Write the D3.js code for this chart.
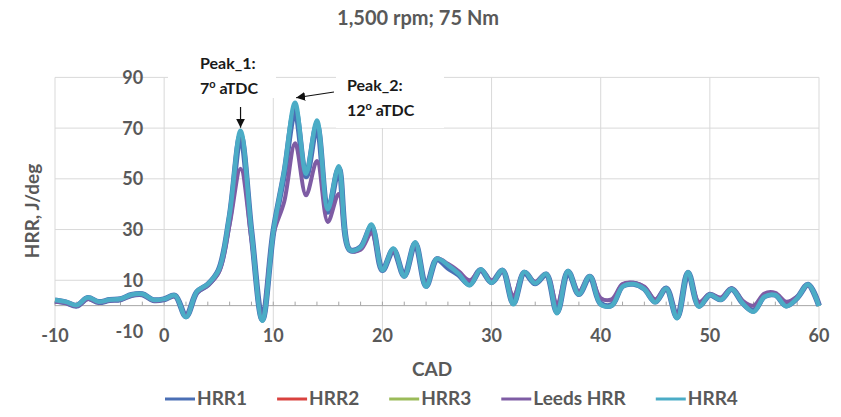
<!DOCTYPE html>
<html>
<head>
<meta charset="utf-8">
<script src="https://cdn.jsdelivr.net/npm/d3@7.9.0/dist/d3.min.js"></script>
<style>
  body { margin: 0; background: #fff; }
  svg { display: block; font-family: Lato, "Open Sans", sans-serif; font-weight: bold; }
</style>
</head>
<body>
<svg id="chart" width="841" height="417"></svg>
<script>
// crank angle, one value per degree
const cad = d3.range(-10, 61);

const yTicks = [-10, 10, 30, 50, 70, 90];
const xTicks = [-10, 0, 10, 20, 30, 40, 50, 60];

// heat release rate, J/deg
const hrr1 = [2.0, 1.3, 0.0, 3.0, 1.4, 2.2, 2.5, 4.2, 4.5, 2.2,
  2.5, 3.9, -4.2, 5.3, 8.3, 14, 35, 67, 29, -5.5,
  29, 52, 77, 51, 71, 37, 54, 22, 23, 31,
  14, 22, 11.8, 24.5, 7.8, 18.3, 15, 12.2, 8.4, 14.1,
  9.2, 13.8, 1.0, 13, 8.8, 12.3, -2.5, 13.4, 4.6, 11.4,
  0.8, 0.2, 7.8, 8.6, 6.7, 1.6, 6.8, -4.6, 13, 0,
  4.3, 2.5, 6.6, 1.2, -2.0, 3.7, 4.3, 0.1, 3.1, 8.2,
  0];
const hrr2 = [2.1, 1.4, 0.1, 3.1, 1.5, 2.3, 2.6, 4.3, 4.6, 2.3,
  2.6, 4.0, -4.4, 5.5, 8.5, 14, 36, 68.5, 29, -5.9,
  29, 53, 79.5, 52, 72.5, 38, 55, 22, 23, 32,
  14, 22.5, 11.5, 25, 7.5, 18.5, 16, 12.5, 8, 14.3,
  9, 14, 0.5, 13.3, 8.8, 12.5, -3, 13.7, 4.5, 11.6,
  0.5, 0, 7.5, 8.5, 6.5, 1.3, 6.8, -5, 13.2, -0.4,
  4.3, 2.3, 6.6, 1, -2.4, 3.5, 4.2, -0.2, 3, 8.3,
  -0.2];
const hrr3 = [2.2, 1.5, 0.2, 3.2, 1.5, 2.3, 2.6, 4.3, 4.6, 2.3,
  2.6, 4.0, -4.5, 5.5, 8.5, 14, 36, 68.8, 29, -6,
  29, 53, 79.8, 52, 72.8, 38, 55, 22, 23, 32,
  14, 22.5, 11.5, 25, 7.5, 18.5, 16, 12.5, 8, 14.3,
  9, 14, 0.5, 13.3, 8.8, 12.5, -3, 13.7, 4.5, 11.6,
  0.5, 0, 7.5, 8.5, 6.5, 1.3, 6.8, -5, 13.2, -0.4,
  4.3, 2.3, 6.6, 1, -2.4, 3.5, 4.2, -0.2, 3, 8.3,
  -0.2];
const leeds = [1.5, 1.0, -0.2, 2.6, 1.2, 2.0, 2.3, 4.0, 4.3, 2.0,
  2.4, 3.6, -3.8, 5.0, 8.0, 13, 32, 54, 26, -4.5,
  28, 41, 64, 43.5, 57, 33, 44, 22, 22, 28.5,
  14.5, 21.5, 12, 24, 8.5, 18.5, 16.5, 13.5, 10, 14,
  10, 13.5, 4, 13, 9.5, 12.5, 1, 13.5, 5.5, 11.6,
  3, 2.5, 8.5, 9, 7.5, 2.5, 6.8, -3.5, 12.5, 1.5,
  4.5, 3.2, 6.8, 2, 0, 4.8, 5, 1.5, 3.5, 8,
  0.5];
const hrr4 = [2.2, 1.5, 0.2, 3.2, 1.5, 2.3, 2.6, 4.3, 4.6, 2.3,
  2.6, 4.0, -4.5, 5.5, 8.5, 14, 36, 69, 29, -6,
  29, 53, 80, 52, 73, 38, 55, 22, 23, 32,
  14, 22.5, 11.5, 25, 7.5, 18.5, 16, 12.5, 8, 14.3,
  9, 14, 0.5, 13.3, 8.8, 12.5, -3, 13.7, 4.5, 11.6,
  0.5, 0, 7.5, 8.5, 6.5, 1.3, 6.8, -5, 13.2, -0.4,
  4.3, 2.3, 6.6, 1, -2.4, 3.5, 4.2, -0.2, 3, 8.3,
  -0.2];

const seriesNames = ["HRR1", "HRR2", "HRR3", "Leeds HRR", "HRR4"];
const seriesValues = [hrr1, hrr2, hrr3, leeds, hrr4];
const seriesColors = ["#4a6fb5", "#d9423f", "#9bbb59", "#7e5ca4", "#4bacc6"];
const seriesWidths = [6, 3, 3, 4, 4.5];

const textGrey = "#595959";
const svg = d3.select("#chart");

const x = d3.scaleLinear().domain([-10, 60]).range([55, 819]);
const y = d3.scaleLinear().domain([-10, 90]).range([331, 77.4]);

// title
svg.append("text")
  .attr("x", 418).attr("y", 25)
  .attr("text-anchor", "middle")
  .attr("font-size", 20).attr("fill", textGrey)
  .text("1,500 rpm; 75 Nm");

// gridlines
svg.append("g").selectAll("line")
  .data(yTicks.filter(d => d > -10))
  .join("line")
  .attr("x1", x(-10)).attr("x2", x(60))
  .attr("y1", d => y(d)).attr("y2", d => y(d))
  .attr("stroke", "#d9d9d9").attr("stroke-width", 1);

svg.append("g").selectAll("line")
  .data(xTicks)
  .join("line")
  .attr("x1", d => x(d)).attr("x2", d => x(d))
  .attr("y1", y(90)).attr("y2", y(-10))
  .attr("stroke", "#d9d9d9").attr("stroke-width", 1);

// horizontal axis through zero with minor ticks
svg.append("line")
  .attr("x1", x(-10)).attr("x2", x(60))
  .attr("y1", y(0)).attr("y2", y(0))
  .attr("stroke", "#a6a6a6").attr("stroke-width", 1);

svg.append("g").selectAll("line")
  .data(x.ticks(35))
  .join("line")
  .attr("x1", d => x(d)).attr("x2", d => x(d))
  .attr("y1", y(0) - 4).attr("y2", y(0))
  .attr("stroke", "#a6a6a6").attr("stroke-width", 1);

// tick labels
svg.append("g").selectAll("text")
  .data(xTicks)
  .join("text")
  .attr("x", d => x(d)).attr("y", 342)
  .attr("text-anchor", "middle")
  .attr("font-size", 18).attr("fill", textGrey)
  .text(d => String(d));

svg.append("g").selectAll("text")
  .data(yTicks)
  .join("text")
  .attr("x", x(0) - 21).attr("y", d => y(d) + 6.5)
  .attr("text-anchor", "end")
  .attr("font-size", 18).attr("fill", textGrey)
  .text(d => String(d));

// axis titles
svg.append("text")
  .attr("transform", "translate(39, 211) rotate(-90)")
  .attr("text-anchor", "middle")
  .attr("font-size", 19).attr("fill", textGrey)
  .text("HRR, J/deg");

svg.append("text")
  .attr("x", 432).attr("y", 376)
  .attr("text-anchor", "middle")
  .attr("font-size", 19).attr("fill", textGrey)
  .text("CAD");

// series
const line = d3.line()
  .x((d, i) => x(cad[i]))
  .y(d => y(d))
  .curve(d3.curveCatmullRom.alpha(0.5));

svg.append("g").selectAll("path")
  .data(seriesValues)
  .join("path")
  .attr("d", d => line(d))
  .attr("fill", "none")
  .attr("stroke", (d, i) => seriesColors[i])
  .attr("stroke-width", (d, i) => seriesWidths[i])
  .attr("stroke-linejoin", "round");

// annotations
svg.append("defs").append("marker")
  .attr("id", "head")
  .attr("viewBox", "0 0 10 10")
  .attr("refX", 10).attr("refY", 5)
  .attr("markerWidth", 9).attr("markerHeight", 9)
  .attr("markerUnits", "userSpaceOnUse")
  .attr("orient", "auto")
  .append("path")
  .attr("d", "M0,0 L10,5 L0,10 Z")
  .attr("fill", "#111");

svg.append("rect").attr("x", 168).attr("y", 48).attr("width", 108).attr("height", 50).attr("fill", "#fff");
svg.append("rect").attr("x", 336).attr("y", 68).attr("width", 108).attr("height", 60).attr("fill", "#fff");

function peakLabel(px, py, name, deg) {
  const t = svg.append("text")
    .attr("x", px).attr("y", py)
    .attr("font-size", 16).attr("fill", "#1a1a1a");
  t.append("tspan").attr("x", px).text(name);
  const l2 = t.append("tspan").attr("x", px).attr("dy", 25);
  l2.append("tspan").text(deg);
  l2.append("tspan").attr("font-size", 11).attr("dy", -6).text("o");
  l2.append("tspan").attr("dy", 6).text(" aTDC");
}
peakLabel(200, 69, "Peak_1:", "7");
peakLabel(347, 91, "Peak_2:", "12");

svg.append("line")
  .attr("x1", x(7)).attr("y1", 107)
  .attr("x2", x(7)).attr("y2", y(69) - 3)
  .attr("stroke", "#111").attr("stroke-width", 1.2)
  .attr("marker-end", "url(#head)");

svg.append("line")
  .attr("x1", 334).attr("y1", 92)
  .attr("x2", x(12) + 1).attr("y2", y(80) - 5)
  .attr("stroke", "#111").attr("stroke-width", 1.2)
  .attr("marker-end", "url(#head)");

// legend
const legend = svg.append("g").attr("transform", "translate(0, 405)");
let lx = 165;
seriesNames.forEach((name, i) => {
  legend.append("line")
    .attr("x1", lx).attr("x2", lx + 30)
    .attr("y1", -6).attr("y2", -6)
    .attr("stroke", seriesColors[i]).attr("stroke-width", 3);
  const t = legend.append("text")
    .attr("x", lx + 32).attr("y", 0)
    .attr("font-size", 19).attr("fill", textGrey)
    .text(name);
  lx += 32 + t.node().getComputedTextLength() + 30;
});
</script>
</body>
</html>
